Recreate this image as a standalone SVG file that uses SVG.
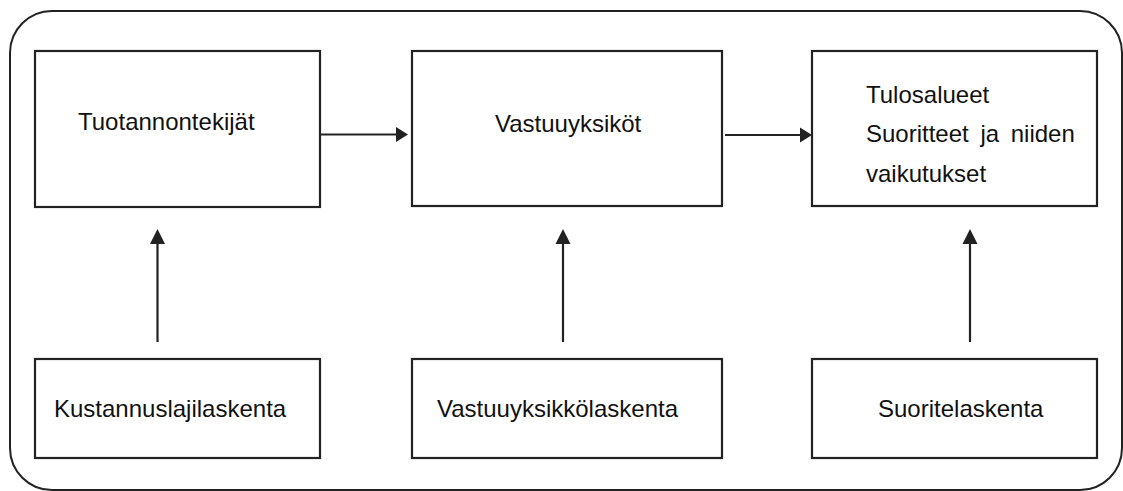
<svg xmlns="http://www.w3.org/2000/svg" width="1123" height="491" viewBox="0 0 1123 491">
  <style>
    .frame { fill: none; stroke: #222; stroke-width: 2; }
    .box { fill: #fff; stroke: #222; stroke-width: 2.2; }
    .lbl { font-family: "Liberation Sans", Arial, sans-serif; font-size: 24px; fill: #111; }
    .link { stroke: #222; stroke-width: 2.2; fill: none; }
    .head { fill: #222; }
  </style>

  <!-- outer frame -->
  <rect class="frame" x="10" y="11" width="1112" height="479" rx="42" ry="42"/>

  <!-- top row -->
  <g id="tuotannontekijat">
    <rect class="box" x="35" y="51" width="285" height="156"/>
    <text class="lbl" x="78" y="130">Tuotannontekijät</text>
  </g>
  <g id="vastuuyksikot">
    <rect class="box" x="412" y="51" width="310" height="155"/>
    <text class="lbl" x="495" y="132">Vastuuyksiköt</text>
  </g>
  <g id="tulosalueet">
    <rect class="box" x="812" y="51" width="285" height="155"/>
    <text class="lbl" x="866" y="103">Tulosalueet</text>
    <text class="lbl" x="866" y="142" word-spacing="5">Suoritteet ja niiden</text>
    <text class="lbl" x="866" y="182">vaikutukset</text>
  </g>

  <!-- bottom row -->
  <g id="kustannuslajilaskenta">
    <rect class="box" x="35" y="359" width="285" height="99"/>
    <text class="lbl" x="54" y="417">Kustannuslajilaskenta</text>
  </g>
  <g id="vastuuyksikkolaskenta">
    <rect class="box" x="412" y="359" width="310" height="99"/>
    <text class="lbl" x="437" y="417">Vastuuyksikkölaskenta</text>
  </g>
  <g id="suoritelaskenta">
    <rect class="box" x="812" y="359" width="285" height="99"/>
    <text class="lbl" x="878" y="417">Suoritelaskenta</text>
  </g>

  <!-- connectors -->
  <g id="connectors">
    <line class="link" x1="321" y1="134.5" x2="397" y2="134.5"/>
    <polygon class="head" points="396,127 408,134.5 396,142"/>

    <line class="link" x1="725" y1="135" x2="801" y2="135"/>
    <polygon class="head" points="800,127.5 812,135 800,142.5"/>

    <line class="link" x1="157.5" y1="342" x2="157.5" y2="242"/>
    <polygon class="head" points="150,244 157.5,229 165,244"/>

    <line class="link" x1="563" y1="342" x2="563" y2="242"/>
    <polygon class="head" points="555.5,244 563,229 570.5,244"/>

    <line class="link" x1="970" y1="342" x2="970" y2="242"/>
    <polygon class="head" points="962.5,244 970,229 977.5,244"/>
  </g>
</svg>
